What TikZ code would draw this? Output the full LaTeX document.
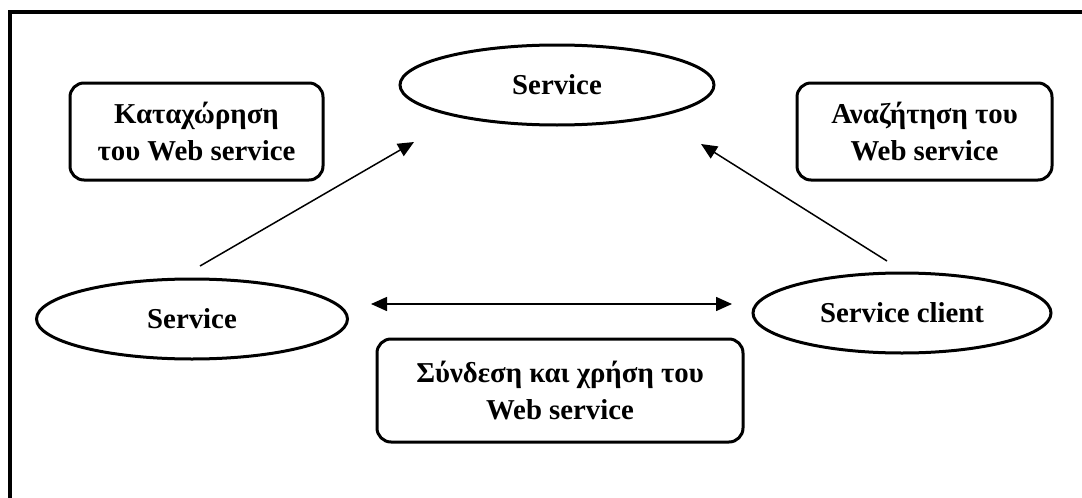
\documentclass[tikz,border=0pt]{standalone}
\usepackage{fontspec}
\setmainfont{Liberation Serif}
\usetikzlibrary{arrows.meta,shapes.geometric}

\begin{document}
\begin{tikzpicture}[
        x=0.5pt, y=-0.5pt,
        >={Triangle[length=8pt,width=7pt]},
        role/.style={
            ellipse,
            draw,
            line width=1.5pt,
            inner sep=0pt,
            minimum height=40pt,
            font=\fontsize{14.4}{17}\selectfont\bfseries
        },
        taskbox/.style={
            rectangle,
            rounded corners=7pt,
            draw,
            line width=1.5pt,
            align=center,
            inner sep=0pt,
            font=\fontsize{14.4}{18.5}\selectfont\bfseries
        },
        arrow/.style={
            ->,
            line width=0.75pt
        }
    ]
    \clip (0,0) rectangle (1082,498);

    % Frame (only top and left edges show)
    \draw[line width=2pt] (1100,12) -- (10,12) -- (10,520);

    % Roles
    \node[role, minimum width=157pt] (registry) at (557,85)
        {Service};
    \node[role, minimum width=155.5pt] (provider) at (192,319)
        {Service};
    \node[role, minimum width=149pt] (client) at (902,313)
        {Service client};

    % Operations
    \node[taskbox, minimum width=126.5pt, minimum height=48.5pt] (publish) at (196.5,131.5)
        {Καταχώρηση\\του Web service};
    \node[taskbox, minimum width=127.5pt, minimum height=48.5pt] (find) at (924.5,131.5)
        {Αναζήτηση του\\Web service};
    \node[taskbox, minimum width=183pt, minimum height=51.5pt] (bind) at (560,390.5)
        {Σύνδεση και χρήση του\\Web service};

    % Arrow ends
    \coordinate (pubFrom) at (200,266);
    \coordinate (pubTo) at (414,142);
    \coordinate (findFrom) at (887,261);
    \coordinate (findTo) at (701,144);
    \coordinate (bindL) at (371,304);
    \coordinate (bindR) at (732,304);

    % Arrows
    \draw[arrow] (pubFrom) -- (pubTo);
    \draw[arrow] (findFrom) -- (findTo);
    \draw[arrow, <->] (bindL) -- (bindR);

\end{tikzpicture}
\end{document}
